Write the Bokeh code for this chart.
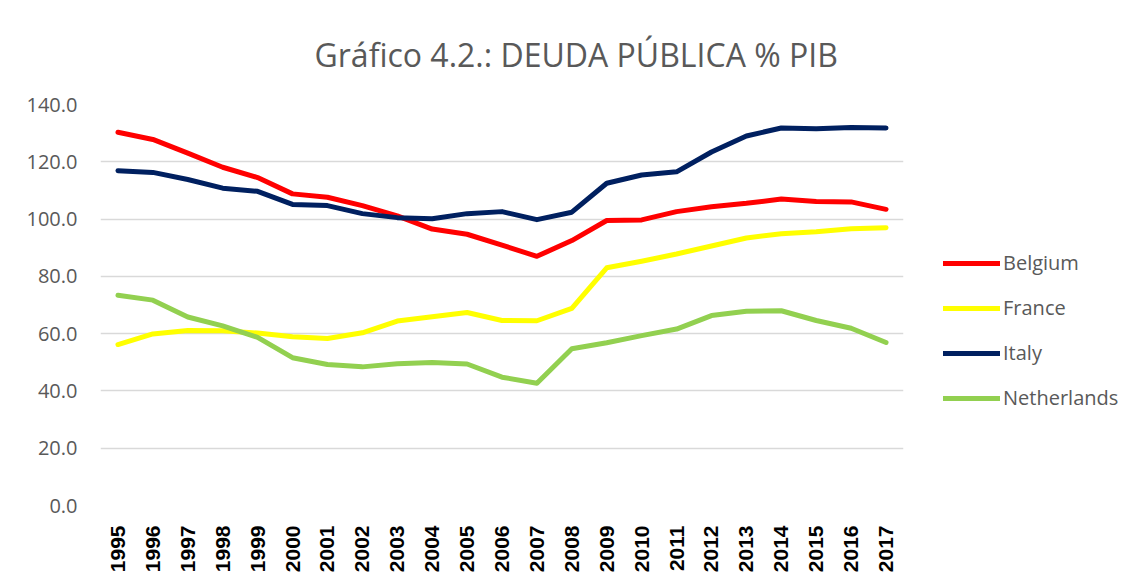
from bokeh.plotting import figure
from bokeh.models import Legend, LegendItem, FixedTicker
from bokeh.embed import file_html
from bokeh.resources import INLINE

years = list(range(1995, 2018))
belgium = [130.3, 127.8, 123.0, 118.1, 114.5, 108.8, 107.6, 104.7, 101.1, 96.5, 94.7, 90.9, 87.0,
           92.5, 99.5, 99.7, 102.6, 104.3, 105.5, 107.0, 106.1, 106.0, 103.4]
france = [56.2, 59.9, 61.1, 61.0, 60.2, 58.9, 58.3, 60.3, 64.4, 65.9, 67.4, 64.6, 64.5,
          68.8, 83.0, 85.3, 87.8, 90.6, 93.4, 94.9, 95.6, 96.6, 97.0]
italy = [116.9, 116.3, 113.8, 110.8, 109.7, 105.1, 104.7, 101.9, 100.5, 100.1, 101.9, 102.6, 99.8,
         102.4, 112.5, 115.4, 116.5, 123.4, 129.0, 131.8, 131.5, 132.0, 131.8]
netherlands = [73.4, 71.7, 65.8, 62.7, 58.7, 51.6, 49.2, 48.4, 49.5, 49.9, 49.4, 44.8, 42.7,
               54.7, 56.8, 59.3, 61.6, 66.3, 67.8, 68.0, 64.6, 61.9, 56.9]
names = ["Belgium", "France", "Italy", "Netherlands"]
colors = ["#FF0000", "#FFFF00", "#002060", "#92D050"]
y_ticks = [0, 20, 40, 60, 80, 100, 120, 140]
title_text = "Gráfico 4.2.: DEUDA PÚBLICA % PIB"

p = figure(width=1127, height=567, frame_width=803, frame_height=401,
           x_range=(1994.5, 2017.5), y_range=(0, 140),
           output_backend="svg", toolbar_location=None,
           min_border_left=100, min_border_top=104, min_border_right=224, min_border_bottom=62)
p.outline_line_color = None
p.xgrid.grid_line_color = None
p.ygrid.grid_line_color = "#D9D9D9"
p.ygrid.grid_line_width = 1.5
p.ygrid.ticker = FixedTicker(ticks=y_ticks)

p.yaxis.ticker = FixedTicker(ticks=y_ticks)
p.yaxis.major_label_overrides = {t: f"{t:.1f}" for t in y_ticks}
p.yaxis.axis_line_color = None
p.yaxis.major_tick_line_color = None
p.yaxis.minor_tick_line_color = None
p.yaxis.major_label_text_font = "Open Sans"
p.yaxis.major_label_text_font_size = "20px"
p.yaxis.major_label_text_color = "#595959"
p.yaxis.major_label_standoff = 17

p.xaxis.ticker = FixedTicker(ticks=years)
p.xaxis.axis_line_color = None
p.xaxis.major_tick_line_color = None
p.xaxis.minor_tick_line_color = None
p.xaxis.major_label_orientation = 1.5707963
p.xaxis.major_label_text_font = "Liberation Sans"
p.xaxis.major_label_text_font_style = "bold"
p.xaxis.major_label_text_font_size = "21px"
p.xaxis.major_label_text_color = "#000000"
p.xaxis.major_label_standoff = 14

series = [belgium, france, italy, netherlands]
items = []
for name, vals, col in zip(names, series, colors):
    r = p.line(years, vals, line_color=col, line_width=5, line_cap="round", line_join="round")
    items.append(LegendItem(label=name, renderers=[r]))

legend = Legend(items=items, location=(40, 94), glyph_width=57, glyph_height=20,
                label_standoff=3, spacing=18, padding=0, margin=0,
                border_line_color=None, background_fill_alpha=0,
                label_text_font="Open Sans", label_text_font_size="20px",
                label_text_color="#595959")
p.add_layout(legend, "right")

p.title.text = title_text
p.title.align = "left"
p.title.offset = 214
p.title.standoff = 58
p.title.text_font = "Open Sans"
p.title.text_font_size = "32px"
p.title.text_font_style = "normal"
p.title.text_color = "#595959"

open("out.html", "w").write(file_html(p, INLINE))
